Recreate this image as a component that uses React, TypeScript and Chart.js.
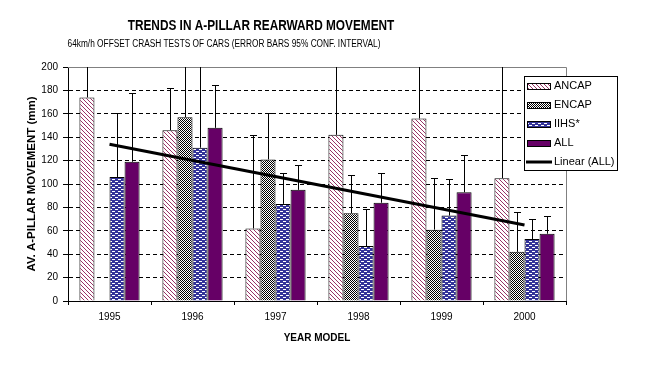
import React, { useEffect, useRef } from "react";
import { Chart, registerables } from "chart.js";

Chart.register(...registerables);

const FONT = "'Liberation Sans', Arial, sans-serif";

const TITLE = "TRENDS IN A-PILLAR REARWARD MOVEMENT";
const SUBTITLE = "64km/h OFFSET CRASH TESTS OF CARS (ERROR BARS 95% CONF. INTERVAL)";
const X_TITLE = "YEAR MODEL";
const Y_TITLE = "AV. A-PILLAR MOVEMENT (mm)";

const YEARS = ["1995", "1996", "1997", "1998", "1999", "2000"];
const ANCAP = [174, 146, 62, 142, 156, 105];
const ANCAP_UPPER = [220, 182, 142, 220, 220, 220];
const ENCAP = [null, 157, 121, 75, 61, 42];
const ENCAP_UPPER = [null, 220, 161, 108, 105, 76];
const IIHS = [106, 131, 83, 47, 73, 53];
const IIHS_UPPER = [161, 220, 109, 79, 104, 70];
const ALL = [119, 148, 95, 84, 93, 57.5];
const ALL_UPPER = [178, 185, 116, 109, 125, 73];
const TREND = [134, null, null, null, null, 65];
const Y_MIN = 0;
const Y_MAX = 200;
const Y_STEP = 20;

function makePattern(
  ctx: CanvasRenderingContext2D,
  w: number,
  h: number,
  bg: string,
  fg: string,
  isFg: (x: number, y: number) => boolean
) {
  const c = document.createElement("canvas");
  c.width = w;
  c.height = h;
  const g = c.getContext("2d")!;
  g.fillStyle = bg;
  g.fillRect(0, 0, w, h);
  g.fillStyle = fg;
  for (let y = 0; y < h; y++) {
    for (let x = 0; x < w; x++) {
      if (isFg(x, y)) g.fillRect(x, y, 1, 1);
    }
  }
  return ctx.createPattern(c, "repeat")!;
}

function condensedText(ctx: CanvasRenderingContext2D, text: string, cx: number, cy: number, sx: number) {
  ctx.save();
  ctx.translate(cx, cy);
  ctx.scale(sx, 1);
  ctx.fillText(text, 0, 0);
  ctx.restore();
}

const errorBarsPlugin = {
  id: "errorBars",
  afterDatasetDraw(chart: any, args: any) {
    const meta = args.meta;
    if (meta.type !== "bar") return;
    const ds = chart.data.datasets[args.index];
    const upper = ds.errorUpper as (number | null)[];
    if (!upper) return;
    const { ctx, chartArea } = chart;
    const yScale = chart.scales.y;
    ctx.save();
    ctx.beginPath();
    ctx.rect(chartArea.left, chartArea.top, chartArea.right - chartArea.left, chartArea.bottom - chartArea.top);
    ctx.clip();
    ctx.strokeStyle = "#000";
    ctx.lineWidth = 1;
    meta.data.forEach((el: any, i: number) => {
      const v = ds.data[i];
      const u = upper[i];
      if (v == null || u == null) return;
      const x = Math.round(el.x) + 0.5;
      const y0 = el.y;
      const y1 = Math.round(yScale.getPixelForValue(u)) + 0.5;
      ctx.beginPath();
      ctx.moveTo(x, y0);
      ctx.lineTo(x, y1);
      ctx.moveTo(x - 3.5, y1);
      ctx.lineTo(x + 3.5, y1);
      ctx.stroke();
    });
    ctx.restore();
  },
};

const frameAndTextPlugin = {
  id: "frameAndText",
  beforeDatasetsDraw(chart: any) {
    const { ctx, chartArea } = chart;
    ctx.save();
    ctx.strokeStyle = "#808080";
    ctx.lineWidth = 1;
    ctx.beginPath();
    ctx.moveTo(Math.round(chartArea.left), Math.round(chartArea.top) + 0.5);
    ctx.lineTo(Math.round(chartArea.right) + 0.5, Math.round(chartArea.top) + 0.5);
    ctx.lineTo(Math.round(chartArea.right) + 0.5, Math.round(chartArea.bottom));
    ctx.stroke();
    ctx.restore();
  },
  afterDraw(chart: any) {
    const { ctx } = chart;
    ctx.save();
    ctx.fillStyle = "#000";
    ctx.textAlign = "center";
    ctx.textBaseline = "middle";
    ctx.font = `bold 14px ${FONT}`;
    condensedText(ctx, TITLE, 261, 26, 0.845);
    ctx.font = `10px ${FONT}`;
    condensedText(ctx, SUBTITLE, 224, 44, 0.83);

    // legend
    const lx = 524, ly = 76, lw = 94, lh = 95;
    ctx.fillStyle = "#fff";
    ctx.fillRect(lx, ly, lw, lh);
    ctx.strokeStyle = "#000";
    ctx.lineWidth = 1;
    ctx.strokeRect(lx + 0.5, ly + 0.5, lw - 1, lh - 1);
    const order = [0, 1, 2, 3, 4];
    ctx.font = `11px ${FONT}`;
    ctx.textAlign = "left";
    order.forEach((di, row) => {
      const ds = chart.data.datasets[di];
      const cy = 85.5 + row * 19.1;
      if (ds.type === "line") {
        ctx.strokeStyle = ds.borderColor;
        ctx.lineWidth = 3;
        ctx.beginPath();
        ctx.moveTo(526, Math.round(cy));
        ctx.lineTo(552, Math.round(cy));
        ctx.stroke();
      } else {
        ctx.fillStyle = ds.backgroundColor;
        ctx.fillRect(527, Math.round(cy) - 3, 24, 7);
        ctx.strokeStyle = "#000";
        ctx.lineWidth = 1;
        ctx.strokeRect(527.5, Math.round(cy) - 2.5, 23, 6);
      }
      ctx.fillStyle = "#000";
      ctx.fillText(ds.label, 554, cy + 0.5);
    });
    ctx.restore();
  },
};

export default function App() {
  const ref = useRef<HTMLCanvasElement | null>(null);

  useEffect(() => {
    const canvas = ref.current!;
    const ctx = canvas.getContext("2d")!;
    const ancapFill = makePattern(ctx, 4, 4, "#ffffff", "#993366", (x, y) => (x - y + 8) % 4 === 0);
    const encapFill = makePattern(ctx, 2, 2, "#ffffff", "#000000", (x, y) => (x + y) % 2 === 0);
    const iihsFill = makePattern(ctx, 6, 4, "#333399", "#ffffff", (x, y) =>
      (y === 1 && x >= 1 && x < 4) || (y === 3 && (x >= 4 || x < 1))
    );
    const allFill = "#660066";

    const barCommon = {
      type: "bar" as const,
      borderColor: "#000",
      borderWidth: 1,
      borderSkipped: "start" as const,
      order: 1,
      barPercentage: 1,
      categoryPercentage: 0.725,
    };

    const chart = new Chart(canvas, {
      data: {
        labels: YEARS,
        datasets: [
          { ...barCommon, label: "ANCAP", data: ANCAP, backgroundColor: ancapFill, errorUpper: ANCAP_UPPER } as any,
          { ...barCommon, label: "ENCAP", data: ENCAP, backgroundColor: encapFill, errorUpper: ENCAP_UPPER } as any,
          { ...barCommon, label: "IIHS*", data: IIHS, backgroundColor: iihsFill, errorUpper: IIHS_UPPER } as any,
          { ...barCommon, label: "ALL", data: ALL, backgroundColor: allFill, errorUpper: ALL_UPPER } as any,
          {
            type: "line",
            label: "Linear (ALL)",
            data: TREND,
            borderColor: "#000",
            backgroundColor: "#000",
            borderWidth: 3,
            pointRadius: 0,
            spanGaps: true,
            order: 0,
          } as any,
        ],
      },
      options: {
        animation: false,
        responsive: true,
        maintainAspectRatio: false,
        layout: { padding: { left: 0, top: 67, right: 82, bottom: 0 } },
        plugins: {
          legend: { display: false },
          tooltip: { enabled: false },
          title: { display: false },
        },
        scales: {
          x: {
            type: "category",
            offset: true,
            afterFit: (s: any) => {
              s.height = 65;
            },
            grid: {
              offset: true,
              drawOnChartArea: false,
              drawTicks: true,
              tickLength: 4,
              color: "#000",
              tickColor: "#000",
            },
            border: { display: true, color: "#000", width: 1 },
            ticks: {
              color: "#000",
              font: { family: FONT, size: 10 },
              padding: 6,
              maxRotation: 0,
            },
            title: {
              display: true,
              text: X_TITLE,
              color: "#000",
              font: { family: FONT, size: 10, weight: "bold" },
              padding: { top: 0, bottom: 22 },
            },
          },
          y: {
            type: "linear",
            min: Y_MIN,
            max: Y_MAX,
            afterFit: (s: any) => {
              s.width = 68;
            },
            grid: {
              color: (c: any) =>
                c.tick && (c.tick.value === Y_MIN || c.tick.value === Y_MAX) ? "rgba(0,0,0,0)" : "#000",
              tickColor: "#000",
              tickLength: 5,
              drawTicks: true,
              lineWidth: 1,
            },
            border: { display: true, color: "#000", width: 1, dash: [4, 3] },
            ticks: {
              stepSize: Y_STEP,
              color: "#000",
              font: { family: FONT, size: 10 },
              padding: 5,
            },
            title: {
              display: true,
              text: Y_TITLE,
              color: "#000",
              font: { family: FONT, size: 11.5, weight: "bold" },
              padding: { top: 25, bottom: 0 },
            },
          },
        },
      },
      plugins: [frameAndTextPlugin, errorBarsPlugin],
    });
    return () => chart.destroy();
  }, []);

  return (
    <div style={{ position: "absolute", left: 0, top: 0, width: 648, height: 366, background: "#fff" }}>
      <canvas ref={ref} />
    </div>
  );
}
